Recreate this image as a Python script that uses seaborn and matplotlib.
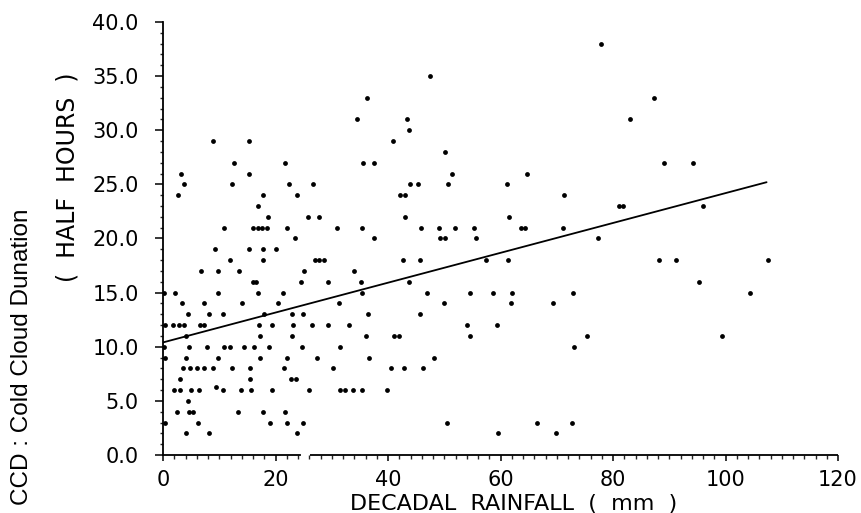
import numpy as np
import pandas as pd
import matplotlib
matplotlib.use("Agg")
import matplotlib.pyplot as plt
import seaborn as sns

# ---- data (decadal rainfall in mm, CCD in half hours) ----
rain_mm = [
    77.9,                                   # 38
    47.5,                                   # 35
    36.3, 87.3,                             # 33
    34.5, 43.4, 83.0,                       # 31
    43.7,                                   # 30
    8.9, 15.2, 40.9,                        # 29
    50.1,                                   # 28
    12.6, 21.6, 35.6, 37.5, 89.1, 94.3,     # 27
    3.2, 15.2, 51.3, 64.7,                  # 26
    3.8, 12.2, 22.4, 26.7, 43.9, 45.4, 50.7, 61.1,   # 25
    2.6, 17.8, 23.9, 42.2, 43.0, 71.3,      # 24
    16.8, 81.0, 81.7, 96.0,                 # 23
    18.6, 25.8, 27.8, 43.1, 61.5,           # 22
    10.8, 16.0, 16.8, 17.6, 18.4, 22.1, 30.9, 35.4, 45.8, 49.0, 51.9, 55.3,
    63.6, 64.4, 71.1,                       # 21
    23.5, 37.5, 49.3, 50.1, 55.7, 77.3,     # 20
    9.2, 15.3, 17.8, 20.0,                  # 19
    11.9, 17.7, 27.0, 27.8, 28.6, 42.7, 45.7, 57.4, 61.4, 88.1, 91.2, 107.6,  # 18
    6.8, 9.8, 13.5, 25.0, 33.9,             # 17
    16.0, 16.6, 24.5, 29.4, 35.2, 43.8, 95.2,   # 16
    0.2, 2.1, 9.8, 16.8, 21.3, 35.4, 46.9, 54.5, 58.6, 62.1, 72.8, 104.4,  # 15
    3.3, 7.2, 14.0, 20.4, 31.3, 50.0, 61.8, 69.3,   # 14
    4.5, 8.1, 10.7, 17.9, 23.0, 24.9, 36.5, 45.7,   # 13
    0.4, 1.8, 2.8, 3.8, 6.5, 7.2, 17.0, 19.4, 23.1, 26.4, 29.3, 33.1, 54.0, 59.3,  # 12
    4.1, 17.3, 22.9, 36.1, 41.1, 41.9, 54.6, 75.3, 99.3,  # 11
    0.2, 4.7, 7.9, 10.9, 11.9, 14.4, 16.2, 18.9, 24.7, 31.5, 73.1,  # 10
    0.3, 4.0, 9.8, 17.3, 22.0, 27.3, 36.6, 48.1,    # 9
    3.6, 4.8, 6.0, 7.2, 8.8, 12.3, 15.5, 21.5, 30.2, 40.6, 42.9, 46.3,  # 8
    3.1, 15.4, 22.8, 23.6,                  # 7
    1.9, 3.1, 4.9, 6.4, 9.5, 10.7, 13.8, 15.6, 19.3, 26.0, 31.5, 32.3, 33.7, 35.4, 39.8,  # 6
    4.5,                                    # 5
    2.4, 4.6, 5.4, 13.3, 17.8, 21.6,        # 4
    0.3, 6.2, 19.0, 22.1, 24.8, 50.4, 66.4, 72.7,   # 3
    4.0, 8.2, 23.8, 59.6, 69.9,             # 2
]

ccd_half_hours = (
    [38] * 1 + [35] * 1 + [33] * 2 + [31] * 3 + [30] * 1 + [29] * 3 + [28] * 1
    + [27] * 6 + [26] * 4 + [25] * 8 + [24] * 6 + [23] * 4 + [22] * 5
    + [21] * 15 + [20] * 6 + [19] * 4 + [18] * 12 + [17] * 5 + [16] * 7
    + [15] * 12 + [14] * 8 + [13] * 8 + [12] * 14 + [11] * 9 + [10] * 11
    + [9] * 8 + [8] * 12 + [7] * 4
    + [6, 6, 6, 6, 6.3, 6, 6, 6, 6, 6, 6, 6, 6, 6, 6]
    + [5] * 1 + [4] * 6 + [3] * 8 + [2] * 5
)

# regression line end points as drawn in the reference
fit_rain = [0.0, 107.3]
fit_ccd = [10.4, 25.2]

x_ticks = [0, 20, 40, 60, 80, 100, 120]
y_ticks = [0, 5, 10, 15, 20, 25, 30, 35, 40]

df = pd.DataFrame({"rain": rain_mm, "ccd": ccd_half_hours})
fit_df = pd.DataFrame({"rain": fit_rain, "ccd": fit_ccd})

sns.set_theme(style="ticks")
plt.rcParams["font.family"] = ["DejaVu Sans"]

fig = plt.figure(figsize=(8.61, 5.13), dpi=100)
ax = fig.add_axes([163 / 861, 1 - 455 / 513, 675 / 861, 433 / 513])

sns.scatterplot(data=df, x="rain", y="ccd", ax=ax, color="black",
                s=12, linewidth=0, marker="o", legend=False)
sns.lineplot(data=fit_df, x="rain", y="ccd", ax=ax, color="black",
             linewidth=1.3, legend=False)

ax.set_xlim(0, 120)
ax.set_ylim(0, 40)
ax.set_xticks(x_ticks)
ax.set_xticklabels([str(v) for v in x_ticks])
ax.set_yticks(y_ticks)
ax.set_yticklabels([f"{v:.1f}" for v in y_ticks])
ax.set_xticks(np.arange(0, 121, 2), minor=True)
ax.set_yticks(np.arange(0, 41, 1), minor=True)

ax.tick_params(axis="x", which="major", direction="out", length=4.5, width=1.1,
               pad=6, labelsize=15, colors="black")
ax.tick_params(axis="x", which="minor", direction="out", length=3, width=1.0)
ax.tick_params(axis="y", which="major", direction="out", length=5.5, width=1.1,
               pad=12, labelsize=15, colors="black")
ax.tick_params(axis="y", which="minor", direction="out", length=2.5, width=1.0)

sns.despine(ax=ax)
for side in ["left", "bottom"]:
    ax.spines[side].set_color("black")
    ax.spines[side].set_linewidth(1.3)
# the printed x axis has a small break just after 24 mm
ax.spines["bottom"].set_bounds(0, 24.3)
ax.plot([26.2, 120], [0, 0], color="black", linewidth=1.3, clip_on=False,
        solid_capstyle="butt")

ax.set_xlabel("")
ax.set_ylabel("")
ax.set_facecolor("white")
fig.patch.set_facecolor("white")

fig.text(514 / 861, 1 - 504 / 513, "DECADAL  RAINFALL  (  mm  )",
         ha="center", va="center", fontsize=16, color="black")
fig.text(68 / 861, 1 - 177 / 513, "(  HALF  HOURS  )", rotation=90,
         ha="center", va="center", fontsize=17, color="black")
fig.text(22 / 861, 1 - 357 / 513, "CCD : Cold Cloud Dunation", rotation=90,
         ha="center", va="center", fontsize=17.5, color="black",
         family=["Liberation Sans", "DejaVu Sans"])

fig.savefig("out.png", dpi=100, facecolor="white")
